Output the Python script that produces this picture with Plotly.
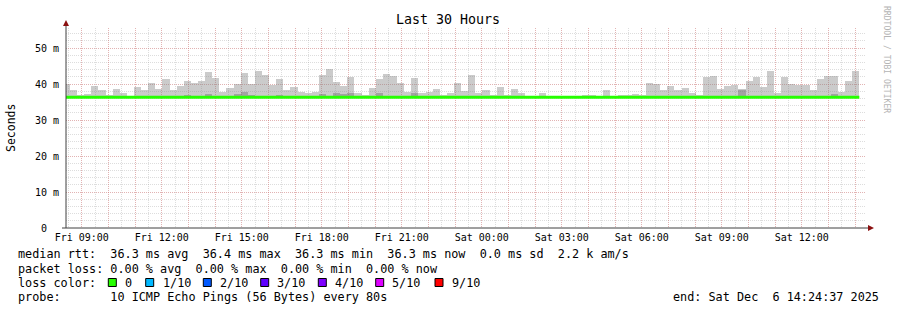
import pandas as pd
import plotly.graph_objects as go

# ---------------- data ----------------
RANGE_START = "2025-12-05 08:24:37"
RANGE_END = "2025-12-06 14:24:37"
FIRST_BAR_START = "2025-12-05 08:17:37"
STEP_SECONDS = 960

# top of smoke (max ping) per 16-min step, ms
SMOKE_MAX = [
    40.0,
    38.3, 37.0, 37.2, 39.4, 38.3, 36.9, 38.7, 37.5, 36.8, 39.3,
    38.2, 40.3, 38.7, 41.5, 38.3, 39.4, 40.9, 40.4, 40.9, 43.4,
    41.8, 37.8, 38.9, 40.0, 43.1, 40.0, 43.7, 42.4, 39.8, 41.5,
    38.3, 39.3, 37.8, 37.4, 37.8, 42.6, 44.3, 40.5, 39.4, 42.0,
    37.6, 36.9, 38.9, 41.5, 42.8, 42.2, 40.2, 37.8, 41.7, 37.6,
    37.8, 38.7, 36.9, 37.6, 40.4, 38.0, 42.6, 37.6, 38.3, 37.0,
    39.3, 37.0, 38.7, 37.6, 36.7, 36.7, 37.6, 36.7, 36.7, 36.7,
    36.7, 36.7, 37.0, 37.0, 36.8, 38.2, 36.7, 37.0, 37.0, 37.2,
    37.0, 40.4, 40.0, 38.2, 39.4, 38.3, 38.9, 37.6, 37.0, 41.9,
    42.2, 38.7, 39.4, 39.8, 38.2, 40.9, 42.0, 39.3, 43.7, 37.6,
    42.0, 40.0, 39.8, 39.8, 38.2, 41.5, 42.2, 42.2, 37.8, 40.9,
    43.7,
]

# top of the darker inner smoke band, ms
SMOKE_DARK = [
    36.3,
    36.3, 36.3, 36.3, 36.3, 36.3, 36.3, 36.3, 36.3, 36.3, 36.3,
    36.3, 36.3, 36.3, 36.3, 36.3, 36.3, 36.9, 36.3, 36.3, 37.2,
    36.3, 36.3, 36.3, 37.2, 37.8, 36.9, 36.3, 36.3, 36.3, 36.9,
    36.3, 36.3, 36.3, 36.3, 36.3, 37.2, 36.3, 37.5, 37.2, 37.5,
    36.3, 36.3, 36.3, 37.5, 36.3, 36.3, 36.3, 36.3, 37.5, 36.3,
    36.3, 36.3, 36.3, 36.3, 36.3, 36.3, 36.3, 36.3, 36.3, 36.3,
    36.3, 36.3, 36.3, 36.3, 36.3, 36.3, 36.3, 36.3, 36.3, 36.3,
    36.3, 36.3, 36.3, 36.3, 36.3, 36.3, 36.3, 36.3, 36.3, 36.3,
    36.3, 36.3, 36.3, 36.3, 36.3, 36.3, 36.3, 36.3, 36.3, 36.3,
    36.3, 36.3, 36.3, 36.3, 38.7, 36.3, 36.3, 36.3, 36.3, 36.3,
    36.3, 36.3, 36.3, 36.3, 36.3, 36.3, 36.3, 37.2, 36.3, 36.3,
    36.3,
]

# median rtt per step, ms
MEDIAN = [
    36.3,
    36.3, 36.3, 36.3, 36.3, 36.3, 36.3, 36.3, 36.3, 36.3, 36.3,
    36.3, 36.3, 36.3, 36.3, 36.3, 36.3, 36.3, 36.3, 36.3, 36.3,
    36.3, 36.3, 36.3, 36.3, 36.3, 36.3, 36.3, 36.3, 36.3, 36.3,
    36.3, 36.3, 36.3, 36.3, 36.3, 36.3, 36.3, 36.3, 36.3, 36.3,
    36.3, 36.3, 36.3, 36.3, 36.3, 36.3, 36.3, 36.3, 36.3, 36.3,
    36.3, 36.3, 36.3, 36.3, 36.3, 36.3, 36.3, 36.3, 36.3, 36.3,
    36.3, 36.3, 36.3, 36.3, 36.3, 36.3, 36.3, 36.3, 36.3, 36.3,
    36.3, 36.3, 36.3, 36.3, 36.3, 36.3, 36.3, 36.3, 36.3, 36.3,
    36.3, 36.3, 36.3, 36.3, 36.3, 36.3, 36.3, 36.3, 36.3, 36.3,
    36.3, 36.3, 36.3, 36.3, 36.3, 36.3, 36.3, 36.3, 36.3, 36.3,
    36.3, 36.3, 36.3, 36.3, 36.3, 36.3, 36.3, 36.3, 36.3, 36.3,
    36.3,
]

Y_TICK_VALUES = [0, 10, 20, 30, 40, 50]
Y_TICK_LABELS = ["0  ", "10 m", "20 m", "30 m", "40 m", "50 m"]
Y_MAX = 55.56

X_TICK_LABELS = {
    "2025-12-05 09:00": "Fri 09:00",
    "2025-12-05 12:00": "Fri 12:00",
    "2025-12-05 15:00": "Fri 15:00",
    "2025-12-05 18:00": "Fri 18:00",
    "2025-12-05 21:00": "Fri 21:00",
    "2025-12-06 00:00": "Sat 00:00",
    "2025-12-06 03:00": "Sat 03:00",
    "2025-12-06 06:00": "Sat 06:00",
    "2025-12-06 09:00": "Sat 09:00",
    "2025-12-06 12:00": "Sat 12:00",
}

LOSS_LABELS = ["0", "1/10", "2/10", "3/10", "4/10", "5/10", "9/10"]
LOSS_COLORS = ["#26ff00", "#00b8ff", "#0059ff", "#5e00ff", "#7e00ff", "#dd00ff", "#ff0000"]

TITLE = "Last 30 Hours"
Y_TITLE = "Seconds"
LINE_RTT = "median rtt:  36.3 ms avg  36.4 ms max  36.3 ms min  36.3 ms now  0.0 ms sd  2.2 k am/s"
LINE_LOSS = "packet loss: 0.00 % avg  0.00 % max  0.00 % min  0.00 % now"
LINE_COLOR = "loss color:"
LINE_PROBE = "probe:       10 ICMP Echo Pings (56 Bytes) every 80s"
LINE_END = "end: Sat Dec  6 14:24:37 2025"
WATERMARK = "RRDTOOL / TOBI OETIKER"

# ---------------- layout constants (pixels) ----------------
W, H = 897, 310
PL, PR, PT, PB = 66, 866, 28, 228
MONO = "DejaVu Sans Mono"
LEG_SIZE = 11.8


def px(x):
    return (x - PL) / (PR - PL)


def py(y):
    return (PB - y) / (PB - PT)


def nb(s):
    return s.replace(" ", "\u00a0")


starts = pd.date_range(FIRST_BAR_START, periods=len(SMOKE_MAX), freq=f"{STEP_SECONDS}s")
centers = starts + pd.Timedelta(seconds=STEP_SECONDS / 2)
bar_w = STEP_SECONDS * 1000

fig = go.Figure()
fig.add_trace(go.Bar(
    x=centers, y=[m - b for m, b in zip(SMOKE_MAX, MEDIAN)], base=MEDIAN,
    width=bar_w, marker=dict(color="rgba(130,130,130,0.42)", line=dict(width=0)),
    hoverinfo="skip",
))
fig.add_trace(go.Bar(
    x=centers, y=[d - b for d, b in zip(SMOKE_DARK, MEDIAN)], base=MEDIAN,
    width=bar_w, marker=dict(color="rgba(70,70,70,0.30)", line=dict(width=0)),
    hoverinfo="skip",
))
line_x = list(starts) + [starts[-1] + pd.Timedelta(seconds=STEP_SECONDS)]
line_y = MEDIAN + [MEDIAN[-1]]
fig.add_trace(go.Scatter(
    x=line_x, y=line_y, mode="lines", line=dict(color=LOSS_COLORS[0], width=3, shape="hv"),
    hoverinfo="skip",
))

hours = pd.date_range("2025-12-05 09:00", "2025-12-06 14:00", freq="1h")
tickvals = list(hours)
ticktext = [X_TICK_LABELS.get(h.strftime("%Y-%m-%d %H:%M"), "") for h in hours]

MAJOR = "rgba(235,110,110,0.38)"
MINOR = "rgba(150,150,150,0.32)"

fig.update_layout(
    width=W, height=H,
    margin=dict(l=PL, r=W - PR, t=PT, b=H - PB),
    paper_bgcolor="white", plot_bgcolor="white",
    showlegend=False, barmode="overlay", bargap=0,
    font=dict(family=MONO, color="black"),
    xaxis=dict(
        type="date", range=[RANGE_START, RANGE_END],
        tickmode="array", tickvals=tickvals, ticktext=ticktext,
        tickfont=dict(family=MONO, size=10, color="black"),
        showgrid=True, gridcolor=MAJOR, griddash="1px,1px", gridwidth=1,
        minor=dict(dtick=1800000, tick0="2025-12-05 00:00", showgrid=True,
                   gridcolor=MINOR, griddash="1px,1px", gridwidth=1),
        showline=False, zeroline=False, ticks="", ticklabelstandoff=2,
    ),
    yaxis=dict(
        range=[0, Y_MAX],
        tickmode="array", tickvals=Y_TICK_VALUES, ticktext=[nb(t) for t in Y_TICK_LABELS],
        tickfont=dict(family=MONO, size=10, color="black"),
        showgrid=True, gridcolor=MAJOR, griddash="1px,1px", gridwidth=1,
        minor=dict(dtick=2, showgrid=True, gridcolor=MINOR, griddash="1px,1px", gridwidth=1),
        showline=False, zeroline=False, ticks="", ticklabelstandoff=6,
    ),
)

AXIS = "#404040"
ARROW = "#8b1010"
shapes = [
    dict(type="line", xref="paper", yref="paper", x0=0, x1=0, y0=0, y1=py(22),
         line=dict(color=AXIS, width=1)),
    dict(type="line", xref="paper", yref="paper", x0=px(62), x1=px(870), y0=0, y1=0,
         line=dict(color=AXIS, width=1)),
    dict(type="path", xref="paper", yref="paper",
         path=f"M {px(63)} {py(26)} L {px(69)} {py(26)} L {px(66)} {py(20)} Z",
         fillcolor=ARROW, line=dict(width=0)),
    dict(type="path", xref="paper", yref="paper",
         path=f"M {px(868)} {py(225)} L {px(868)} {py(231)} L {px(874)} {py(228)} Z",
         fillcolor=ARROW, line=dict(width=0)),
]

annotations = [
    dict(text=TITLE, x=px(448), y=py(20), xref="paper", yref="paper",
         xanchor="center", yanchor="middle", showarrow=False,
         font=dict(family=MONO, size=13.3, color="black")),
    dict(text=Y_TITLE, x=px(11), y=py(128), xref="paper", yref="paper",
         xanchor="center", yanchor="middle", showarrow=False, textangle=-90,
         font=dict(family=MONO, size=11.5, color="black")),
    dict(text=nb(WATERMARK), x=px(887), y=py(59), xref="paper", yref="paper",
         xanchor="center", yanchor="middle", showarrow=False, textangle=90,
         font=dict(family=MONO, size=8.1, color="#b4b4b4")),
]
for txt, yy in [(LINE_RTT, 254), (LINE_LOSS, 268.5), (LINE_COLOR, 282.5), (LINE_PROBE, 297)]:
    annotations.append(dict(text=nb(txt), x=px(16), y=py(yy), xref="paper", yref="paper",
                            xanchor="left", yanchor="middle", showarrow=False,
                            font=dict(family=MONO, size=LEG_SIZE, color="black")))
annotations.append(dict(text=nb(LINE_END), x=px(881), y=py(297), xref="paper", yref="paper",
                        xanchor="right", yanchor="middle", showarrow=False,
                        font=dict(family=MONO, size=LEG_SIZE, color="black")))

BOX_X = [108.3, 145.7, 203.3, 260.7, 318.3, 375.7, 435.0]
LABEL_X = [123.0, 160.7, 218.0, 275.3, 332.7, 390.0, 450.0]
for lab, col, bx, lx in zip(LOSS_LABELS, LOSS_COLORS, BOX_X, LABEL_X):
    shapes.append(dict(type="rect", xref="paper", yref="paper",
                       x0=px(bx), x1=px(bx + 8), y0=py(286.5), y1=py(278.5),
                       fillcolor=col, line=dict(color="black", width=1)))
    annotations.append(dict(text=lab, x=px(lx), y=py(282.5), xref="paper", yref="paper",
                            xanchor="left", yanchor="middle", showarrow=False,
                            font=dict(family=MONO, size=LEG_SIZE, color="black")))

fig.update_layout(shapes=shapes, annotations=annotations)
fig.write_html("out.html")
